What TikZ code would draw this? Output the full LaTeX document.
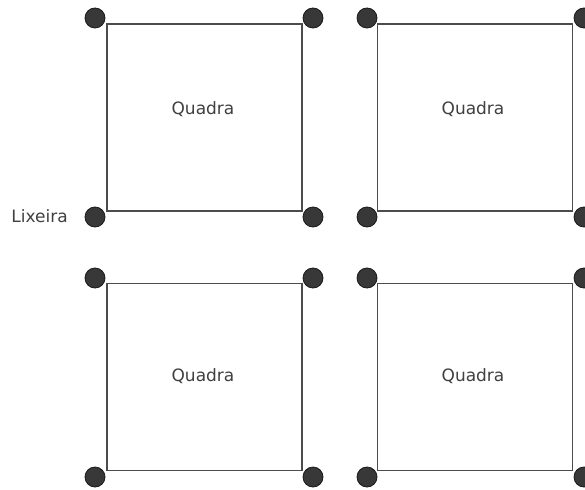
\documentclass[tikz,border=0pt]{standalone}
\usepackage{fontspec}
\setmainfont{DejaVu Sans}
\begin{document}
\begin{tikzpicture}[x=1pt,y=-1pt,
  quadra/.style={draw=black!70,line width=1.2pt,fill=white,minimum width=195pt,minimum height=187pt,inner sep=0pt},
  lix/.style={circle,fill=black!78,draw=black!90,line width=0.8pt,minimum size=20pt,inner sep=0pt},
  lbl/.style={font=\fontsize{17}{20}\selectfont,text=black!75,inner sep=0pt}]
\useasboundingbox (0,0) rectangle (585,489);
\node[quadra] (q1) at (204.5,117.5) {};
\node[quadra] (q2) at (475,117.5) {};
\node[quadra] (q3) at (204.5,377) {};
\node[quadra] (q4) at (475,377) {};
\node[lbl] (t1) at ([xshift=-1.5pt,yshift=8pt]q1.center) {Quadra};
\node[lbl] (t2) at ([xshift=-2pt,yshift=8pt]q2.center) {Quadra};
\node[lbl] (t3) at ([xshift=-1.5pt,yshift=1pt]q3.center) {Quadra};
\node[lbl] (t4) at ([xshift=-2pt,yshift=1pt]q4.center) {Quadra};
% corner bins
\node[lix] (c11) at (95,18) {};
\node[lix] (c12) at (313,18) {};
\node[lix] (c13) at (95,217) {};
\node[lix] (c14) at (313,217) {};
\node[lix] (c21) at (367,18) {};
\node[lix] (c22) at (584,18) {};
\node[lix] (c23) at (367,217) {};
\node[lix] (c24) at (584,217) {};
\node[lix] (c31) at (95,278) {};
\node[lix] (c32) at (313,278) {};
\node[lix] (c33) at (95,477) {};
\node[lix] (c34) at (313,477) {};
\node[lix] (c41) at (367,278) {};
\node[lix] (c42) at (584,278) {};
\node[lix] (c43) at (367,477) {};
\node[lix] (c44) at (584,477) {};
\node[lbl,anchor=east] (lx) at (68,216) {Lixeira};
\end{tikzpicture}
\end{document}
